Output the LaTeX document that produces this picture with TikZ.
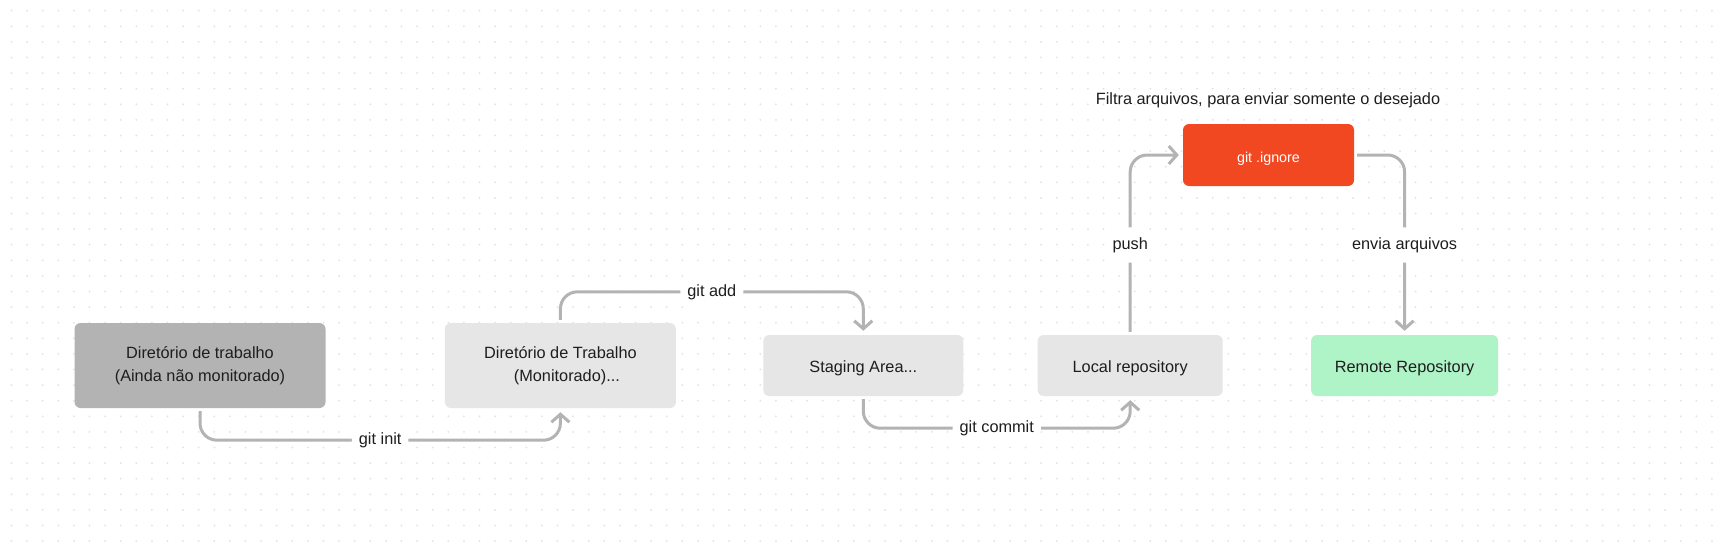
\documentclass[tikz,border=0pt]{standalone}
\usepackage{fontspec}
\setmainfont{Liberation Sans}
\usetikzlibrary{arrows.meta,positioning}

\definecolor{boxdark}{HTML}{B3B3B3}
\definecolor{boxlight}{HTML}{E6E6E6}
\definecolor{boxred}{HTML}{F24822}
\definecolor{boxgreen}{HTML}{AFF4C6}
\definecolor{linegray}{HTML}{B3B3B3}
\definecolor{textdark}{HTML}{1E1E1E}
\definecolor{griddot}{HTML}{E2E2E2}

\begin{document}
\begin{tikzpicture}[x=1pt, y=-1pt, >={Straight Barb[length=8pt,width=18pt]},
    font=\fontsize{16.3}{23}\selectfont, text=textdark,
    stage/.style={rounded corners=6pt, inner sep=0pt, minimum height=61pt, align=center,
        execute at begin node={\rule{0pt}{17.5pt}}},
    conn/.style={->, draw=linegray, line width=3pt, rounded corners=17pt, shorten >=4pt, shorten <=3pt},
    cmd/.style={fill=white, inner xsep=7pt, inner ysep=10pt}]
    % background with dot grid
    \fill[white] (0,0) rectangle (1713,546);
    \useasboundingbox (0,0) rectangle (1713,546);
    \foreach \i in {0,...,109}
        \foreach \j in {0,...,34}
            \fill[griddot] (11.5+15.6*\i,10.7+15.6*\j) circle (1pt);

    \node[stage, fill=boxdark, minimum width=251pt, minimum height=85pt] (dir) at (200,365.5) {Diretório de trabalho\\(Ainda não monitorado)};
    \node[stage, fill=boxlight, minimum width=231pt, minimum height=85pt] (mon) [right=119pt of dir] {Diretório de Trabalho\\\hspace{13pt}(Monitorado)...};
    \node[stage, fill=boxlight, minimum width=200pt] (stg) [right=87pt of mon] {Staging Area...};
    \node[stage, fill=boxlight, minimum width=185pt] (loc) [right=74pt of stg] {Local repository};
    \node[stage, fill=boxgreen, minimum width=187pt] (rem) [right=88pt of loc] {Remote Repository};
    \node[stage, fill=boxred, text=white, minimum width=171pt, minimum height=62pt, font=\fontsize{14.3}{18}\selectfont,
        execute at begin node={\rule{0pt}{12pt}}] (ign) at (1268.5,155) {git .ignore};
    \node (note) at (1268,100) {Filtra arquivos, para enviar somente o desejado};

    \draw[conn] (dir.south) -- ++(0,32) -| node[cmd, pos=0.25] {git init} (mon.south);
    \draw[conn] (mon.north) -- ++(0,-31) -| node[cmd, pos=0.25] {git add} (stg.north);
    \draw[conn] (stg.south) -- ++(0,32) -| node[cmd, pos=0.25] {git commit} (loc.south);
    \draw[conn] (loc.north) |- node[cmd, pos=0.25] {push} (ign.west);
    \draw[conn] (ign.east) -| node[cmd, pos=0.75] {envia arquivos} (rem.north);
\end{tikzpicture}
\end{document}
